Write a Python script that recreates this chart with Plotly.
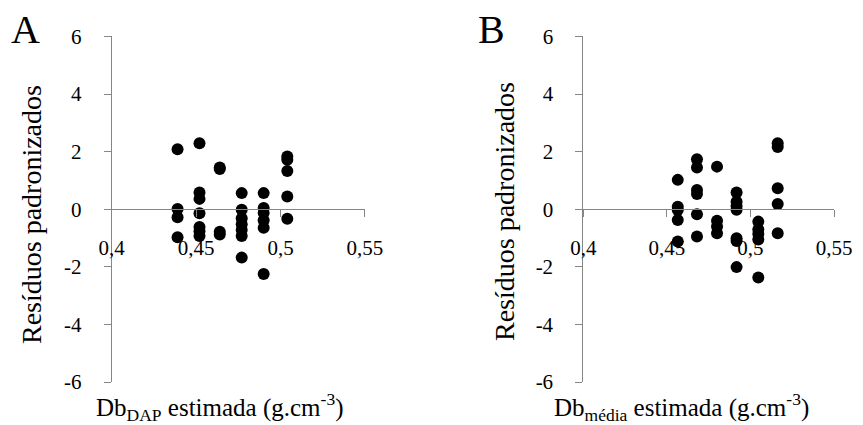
import plotly.graph_objects as go

# Panel A data: Db_DAP estimada vs residuos padronizados
xA = [0.439]*4 + [0.452]*7 + [0.464]*4 + [0.477]*7 + [0.490]*6 + [0.504]*5
yA = [2.08, 0.01, -0.28, -0.97,
      2.29, 0.58, 0.36, -0.14, -0.62, -0.76, -0.93,
      1.45, 1.40, -0.78, -0.88,
      0.56, -0.02, -0.31, -0.52, -0.72, -0.93, -1.68,
      0.56, 0.04, -0.13, -0.38, -0.64, -2.25,
      1.83, 1.72, 1.33, 0.44, -0.33]

# Panel B data: Db_media estimada vs residuos padronizados
xB = [0.4565]*5 + [0.468]*6 + [0.480]*4 + [0.4917]*7 + [0.5047]*5 + [0.5163]*5
yB = [1.02, 0.09, -0.03, -0.37, -1.12,
      1.74, 1.45, 0.67, 0.53, -0.17, -0.95,
      1.48, -0.40, -0.60, -0.83,
      0.58, 0.26, 0.11, -0.02, -1.01, -1.10, -2.01,
      -0.43, -0.70, -0.86, -1.05, -2.37,
      2.29, 2.16, 0.73, 0.18, -0.83]

x_ticks = [0.4, 0.45, 0.5, 0.55]
x_ticktext = ["0,4", "0,45", "0,5", "0,55"]
y_ticks = [-6, -4, -2, 0, 2, 4, 6]
y_ticktext = ["-6", "-4", "-2", "0", "2", "4", "6"]

FONT = "Liberation Serif, 'Times New Roman', Times, serif"
GRAY = "#868686"
TICKSIZE = 21
TITLESIZE = 25

fig = go.Figure()
fig.add_trace(go.Scatter(x=xA, y=yA, mode="markers", xaxis="x", yaxis="y",
                         marker=dict(color="black", size=12), showlegend=False))
fig.add_trace(go.Scatter(x=xB, y=yB, mode="markers", xaxis="x2", yaxis="y2",
                         marker=dict(color="black", size=12), showlegend=False))

ydom = [0.1031, 0.9317]
ymid = (ydom[0] + ydom[1]) / 2

def xax(domain):
    return dict(domain=domain, range=[0.4, 0.55], anchor="free", position=ymid,
                tickvals=x_ticks, ticktext=x_ticktext, automargin=False,
                ticks="outside", ticklen=7, tickcolor=GRAY, showline=True,
                linecolor=GRAY, linewidth=1, showgrid=False, zeroline=False,
                ticklabelstandoff=13,
                tickfont=dict(family=FONT, size=TICKSIZE, color="black"))

def yax(domain, anchor):
    return dict(domain=domain, range=[-6, 6], anchor=anchor, automargin=False,
                tickvals=y_ticks, ticktext=y_ticktext,
                ticks="outside", ticklen=7, tickcolor=GRAY, showline=True,
                linecolor=GRAY, linewidth=1, showgrid=False, zeroline=False,
                ticklabelstandoff=18,
                tickfont=dict(family=FONT, size=TICKSIZE, color="black"))

fig.update_layout(
    width=855, height=417,
    margin=dict(l=0, r=0, t=0, b=0, autoexpand=False),
    paper_bgcolor="white", plot_bgcolor="white",
    xaxis=xax([0.1213, 0.4175]),
    yaxis=yax(ydom, "x"),
    xaxis2=xax([0.6729, 0.9661]),
    yaxis2=yax(ydom, "x2"),
    font=dict(family=FONT, color="black"),
)

ann = [
    ("A", 0.0199, 0.9496, 40, 0),
    ("B", 0.566, 0.9496, 40, 0),
    ("Resíduos padronizados", 0.0281, 0.5036, 28, -90),
    ("Resíduos padronizados", 0.5813, 0.5108, 28, -90),
    ("Db<sub>DAP</sub> estimada (g.cm<sup>-3</sup>)", 0.2468, 0.0432, TITLESIZE, 0),
    ("Db<sub>média</sub> estimada (g.cm<sup>-3</sup>)", 0.7883, 0.0432, TITLESIZE, 0),
]
for text, x, y, size, angle in ann:
    fig.add_annotation(xref="paper", yref="paper", showarrow=False,
                       xanchor="center", yanchor="middle", text=text,
                       x=x, y=y, textangle=angle,
                       font=dict(family=FONT, color="black", size=size))

fig.write_html("out.html")
